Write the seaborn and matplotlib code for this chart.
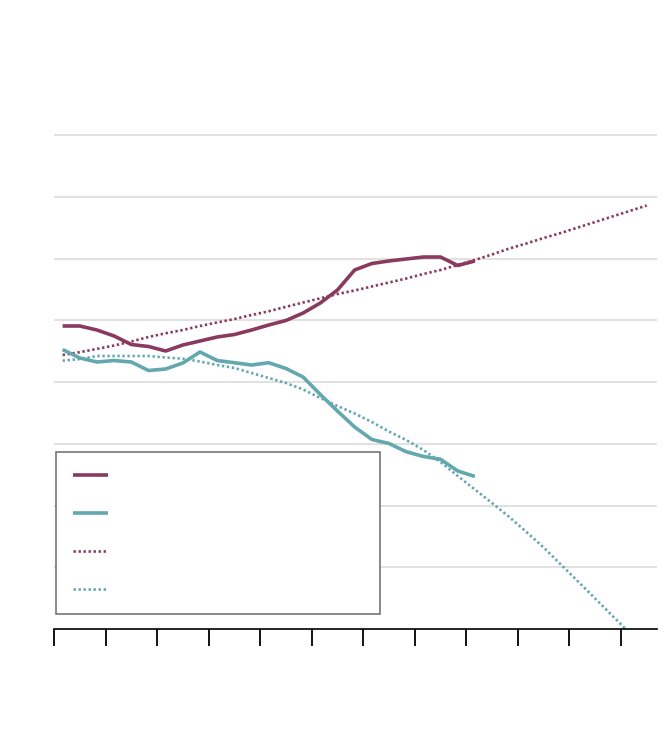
import numpy as np
import pandas as pd
import matplotlib
matplotlib.use("Agg")
import matplotlib.pyplot as plt
import seaborn as sns

# ---- data ----
x_solid = [i + 0.5 for i in range(25)]
red_actual = [4.907, 4.907, 4.842, 4.745, 4.607, 4.575, 4.502, 4.599, 4.664, 4.729,
              4.769, 4.842, 4.923, 4.996, 5.117, 5.279, 5.490, 5.814, 5.919, 5.960,
              5.992, 6.024, 6.024, 5.887, 5.960]
teal_actual = [4.526, 4.389, 4.324, 4.348, 4.324, 4.186, 4.211, 4.308, 4.486, 4.348,
               4.312, 4.275, 4.312, 4.219, 4.081, 3.798, 3.530, 3.271, 3.069, 3.004,
               2.871, 2.794, 2.748, 2.559, 2.470]

x_red_proj = [i + 0.5 for i in range(35)]
red_proj = [4.437, 4.483, 4.536, 4.591, 4.656, 4.729, 4.789, 4.842, 4.907, 4.964,
            5.020, 5.085, 5.145, 5.218, 5.287, 5.355, 5.425, 5.482, 5.547, 5.611,
            5.676, 5.749, 5.814, 5.895, 5.976, 6.065, 6.162, 6.243, 6.332, 6.413,
            6.502, 6.591, 6.680, 6.769, 6.858]

x_teal_proj = [i + 0.5 for i in range(34)]
teal_proj = [4.345, 4.372, 4.421, 4.421, 4.421, 4.421, 4.397, 4.377, 4.332, 4.275,
             4.227, 4.146, 4.065, 3.984, 3.879, 3.741, 3.611, 3.490, 3.352, 3.198,
             3.061, 2.899, 2.704, 2.478, 2.259, 2.040, 1.814, 1.571, 1.320, 1.045,
             0.771, 0.494, 0.215, -0.065]

x_ticks = list(range(0, 34, 3))
y_grid = [1, 2, 3, 4, 5, 6, 7, 8]

RED = "#893A5E"
TEAL = "#63A8AF"

sns.set_style("white")

fig = plt.figure(figsize=(6.70, 7.54), dpi=100)
W, H = 670, 754
ax = fig.add_axes([54 / W, (H - 629) / H, (657 - 54) / W, (629 - 132) / H])

df_ra = pd.DataFrame({"x": x_solid, "y": red_actual})
df_ta = pd.DataFrame({"x": x_solid, "y": teal_actual})
df_rp = pd.DataFrame({"x": x_red_proj, "y": red_proj})
df_tp = pd.DataFrame({"x": x_teal_proj, "y": teal_proj})

sns.lineplot(data=df_ra, x="x", y="y", ax=ax, color=RED, linewidth=2.6,
             label=" ", zorder=4, solid_capstyle="butt")
sns.lineplot(data=df_ta, x="x", y="y", ax=ax, color=TEAL, linewidth=2.6,
             label="  ", zorder=4, solid_capstyle="butt")
sns.lineplot(data=df_rp, x="x", y="y", ax=ax, color=RED, linewidth=1.9,
             linestyle=(0, (0.9, 1.0)), label="   ", zorder=3)
sns.lineplot(data=df_tp, x="x", y="y", ax=ax, color=TEAL, linewidth=1.9,
             linestyle=(0, (0.9, 1.0)), label="    ", zorder=3)

ax.set_xlim(0, 603 / 17.18)
ax.set_ylim(0, 8.0 + 3 / 61.75)
ax.set_xticks(x_ticks)
ax.set_xticklabels([])
ax.set_yticks(y_grid)
ax.set_yticklabels([])
ax.set_xlabel("")
ax.set_ylabel("")
ax.tick_params(axis="x", direction="out", length=12, width=1.3, color="black",
               bottom=True)
ax.tick_params(axis="y", length=0)
ax.grid(axis="y", color="#dedede", linewidth=1.3, zorder=0)
ax.grid(axis="x", visible=False)
ax.set_axisbelow(True)
for s in ["top", "right", "left"]:
    ax.spines[s].set_visible(False)
ax.spines["bottom"].set_color("black")
ax.spines["bottom"].set_linewidth(1.2)
ax.spines["bottom"].set_zorder(5)

leg = ax.legend(loc="lower left",
                bbox_to_anchor=((56 - 54) / 603, (629 - 614) / 497,
                                (380 - 56) / 603, (614 - 450) / 497),
                mode="expand", borderaxespad=0, frameon=True, fancybox=False,
                handlelength=2.5, labelspacing=1.72, borderpad=1.25,
                fontsize=10)
fr = leg.get_frame()
fr.set_edgecolor("#6a6a6a")
fr.set_linewidth(1.1)
fr.set_facecolor("white")
fr.set_alpha(1)
leg.set_zorder(6)

fig.savefig("out.png", dpi=100, facecolor="white")
